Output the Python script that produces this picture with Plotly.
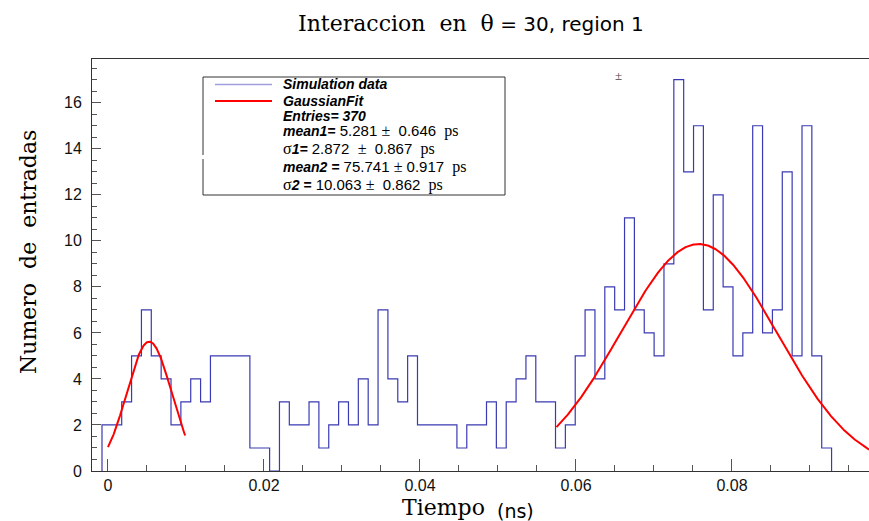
import numpy as np
import plotly.graph_objects as go

# ---------------- data ----------------
bin_start = -0.000769      # left edge of first drawn bin
bin_width = 0.001264
counts = [2, 2, 3, 5, 7, 5, 4, 2, 3, 4, 3, 5, 5, 5, 5, 1, 1, 0, 3, 2,
          2, 3, 1, 2, 3, 2, 4, 2, 7, 4, 3, 5, 2, 2, 2, 2, 1, 2, 2, 3,
          1, 3, 4, 5, 3, 3, 1, 2, 5, 7, 4, 8, 7, 11, 7, 6, 5, 9, 17, 13,
          15, 7, 12, 8, 5, 6, 15, 6, 7, 13, 5, 15, 5, 1]

fit1_mean, fit1_sigma, fit1_amp = 0.005281, 0.002872, 5.62
fit1_range = [0.0, 0.0099]
fit2_mean, fit2_sigma, fit2_amp = 0.075741, 0.010063, 9.86
fit2_range = [0.0575, 0.098]

x_ticks = [0, 0.02, 0.04, 0.06, 0.08]
x_ticklabels = ["0", "0.02", "0.04", "0.06", "0.08"]
y_ticks = [0, 2, 4, 6, 8, 10, 12, 14, 16]

# ---------------- layout geometry ----------------
W, H = 869, 521
L, R, T, B = 92, 0, 59, 50
PW, PH = W - L - R, H - T - B

def px(xp):
    return (xp - L) / PW

def py(yp):
    return (H - B - yp) / PH

edges = [bin_start + i * bin_width for i in range(len(counts) + 1)]
hx = [edges[0]] + edges
hy = [0] + list(counts) + [0]

def gauss(x, a, m, s):
    return a * np.exp(-0.5 * ((x - m) / s) ** 2)

g1x = np.linspace(fit1_range[0], fit1_range[1], 200)
g2x = np.linspace(fit2_range[0], fit2_range[1], 400)

fig = go.Figure()
fig.add_trace(go.Scatter(x=hx, y=hy, mode="lines", line_shape="hv",
                         line=dict(color="#3a3ab4", width=1.2),
                         hoverinfo="skip", showlegend=False))
fig.add_trace(go.Scatter(x=g1x, y=gauss(g1x, fit1_amp, fit1_mean, fit1_sigma),
                         mode="lines", line=dict(color="#ff0000", width=2),
                         showlegend=False))
fig.add_trace(go.Scatter(x=g2x, y=gauss(g2x, fit2_amp, fit2_mean, fit2_sigma),
                         mode="lines", line=dict(color="#ff0000", width=2),
                         showlegend=False))

axis_col = "#333333"
fig.update_xaxes(range=[-0.00205, -0.00205 + PW / 7800.0],
                 tickmode="array", tickvals=x_ticks, ticktext=x_ticklabels,
                 ticks="inside", ticklen=12, tickcolor="#555", tickwidth=1,
                 minor=dict(ticks="inside", ticklen=6, dtick=0.005, tick0=0,
                            tickcolor="#555"),
                 showline=True, linecolor=axis_col, linewidth=1, mirror=True,
                 showgrid=False, zeroline=False,
                 tickfont=dict(family="Liberation Sans", size=16, color="#111"))
fig.update_yaxes(range=[0, 17.9], tickmode="array", tickvals=y_ticks,
                 ticks="inside", ticklen=9, tickcolor="#555", tickwidth=1,
                 minor=dict(ticks="inside", ticklen=5, dtick=0.5, tick0=0,
                            tickcolor="#555"),
                 showline=True, linecolor=axis_col, linewidth=1,
                 showgrid=False, zeroline=False, ticklabelstandoff=6,
                 tickfont=dict(family="Liberation Sans", size=16, color="#111"))

serif = "DejaVu Serif"
sans = "DejaVu Sans"
ann = []
# title
ann.append(dict(x=px(296), y=py(24), xref="paper", yref="paper",
                xanchor="left", yanchor="middle", showarrow=False,
                text=(f'<span style="font-family:{serif}">Interaccion&nbsp; en&nbsp; θ</span>'
                      f'<span style="font-family:{sans};font-size:20px"> = 30, region 1</span>'),
                font=dict(family=serif, size=22, color="#000")))
# y-axis title
ann.append(dict(x=px(28), y=py(252), xref="paper", yref="paper",
                xanchor="center", yanchor="middle", showarrow=False, textangle=-90,
                text="Numero&nbsp; de&nbsp; entradas",
                font=dict(family=serif, size=22, color="#000")))
# x-axis title
ann.append(dict(x=px(400), y=py(507), xref="paper", yref="paper",
                xanchor="left", yanchor="middle", showarrow=False,
                text="Tiempo", font=dict(family=serif, size=22, color="#000")))
ann.append(dict(x=px(495), y=py(511), xref="paper", yref="paper",
                xanchor="left", yanchor="middle", showarrow=False,
                text="(ns)", font=dict(family=sans, size=19, color="#000")))
# stray plus-minus
ann.append(dict(x=px(618), y=py(75), xref="paper", yref="paper",
                xanchor="center", yanchor="middle", showarrow=False,
                text="±", font=dict(family="Liberation Serif", size=13, color="#444")))

# legend box
shapes = []
bx0, bx1, by0, by1 = 203, 505, 77, 195
line_style = dict(color="#333", width=1)
for (xa, ya, xb, yb) in [(bx0, by0, bx1, by0), (bx1, by0, bx1, by1),
                         (bx0, by1, bx1, by1), (bx0, by0, bx0, 155),
                         (bx0, 159, bx0, by1)]:
    shapes.append(dict(type="line", xref="paper", yref="paper",
                       x0=px(xa), y0=py(ya), x1=px(xb), y1=py(yb), line=line_style))
shapes.append(dict(type="line", xref="paper", yref="paper", x0=px(215), x1=px(272),
                   y0=py(84.5), y1=py(84.5), line=dict(color="#a0a0e0", width=1.5)))
shapes.append(dict(type="line", xref="paper", yref="paper", x0=px(215), x1=px(272),
                   y0=py(101), y1=py(101), line=dict(color="#ff0000", width=2)))

bi = lambda s: f"<b><i>{s}</i></b>"
sv = lambda s: f'<span style="font-family:Liberation Serif;font-size:16px">{s}</span>'
num = lambda s: f'<span style="font-size:15px">{s}</span>'
rows = [
    (84, bi("Simulation data")),
    (100.5, bi("GaussianFit")),
    (116, bi("Entries= 370")),
    (131, bi("mean1=") + num(" 5.281 ") + sv("±") + num("&nbsp; 0.646 ") + sv("&nbsp;ps")),
    (148.5, sv("σ") + bi("1=") + num(" 2.872&nbsp; ") + sv("±") + num("&nbsp; 0.867 ") + sv("&nbsp;ps")),
    (167, bi("mean2 =") + num(" 75.741 ") + sv("±") + num(" 0.917 ") + sv("&nbsp;ps")),
    (184.5, sv("σ") + bi("2 =") + num(" 10.063 ") + sv("±") + num("&nbsp; 0.862 ") + sv("&nbsp;ps")),
]
for yy, txt in rows:
    ann.append(dict(x=px(281), y=py(yy), xref="paper", yref="paper",
                    xanchor="left", yanchor="middle", showarrow=False, text=txt,
                    font=dict(family="Liberation Sans", size=14, color="#000")))

fig.update_layout(width=W, height=H, margin=dict(l=L, r=R, t=T, b=B),
                  paper_bgcolor="white", plot_bgcolor="white",
                  annotations=ann, shapes=shapes, showlegend=False)
fig.write_html("out.html")
